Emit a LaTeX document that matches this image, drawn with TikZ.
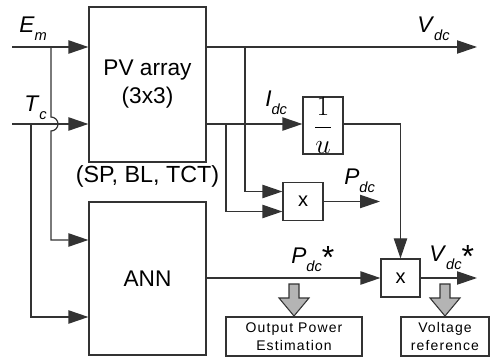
\documentclass[tikz,border=0pt]{standalone}
\usepackage{fontspec}
\setmainfont{Liberation Sans}
\usetikzlibrary{arrows.meta}
\definecolor{ink}{HTML}{333333}
\definecolor{hollow}{HTML}{B4B4B4}
\newcommand{\siglbl}[2]{\textit{#1}\raisebox{-6pt}{\fontsize{11}{11}\selectfont\textit{#2}}}
\newcommand{\starmark}{\raisebox{-4pt}{\fontsize{24}{24}\selectfont *}}
\tikzset{
  every node/.style={font=\fontsize{17}{21}\selectfont},
  block/.style={
    rectangle, draw=ink, line width=0.9pt, fill=white,
    align=center, inner sep=0pt
  },
  mult/.style={
    block, minimum width=30pt, minimum height=28pt,
    font=\fontsize{15}{15}\selectfont
  },
  note/.style={
    block, minimum height=29.25pt,
    font=\fontsize{10.5}{13.5}\selectfont\addfontfeatures{LetterSpace=8}
  },
  wire/.style={draw=ink, line width=0.9pt},
  arrow/.style={
    -{Triangle[length=15pt,width=10pt]},
    wire
  },
  lbl/.style={anchor=base west, inner sep=0pt},
  fat/.style={draw=ink, line width=0.8pt, fill=hollow},
}

\begin{document}
\begin{tikzpicture}[x=0.75pt, y=-0.75pt]
  \useasboundingbox (0,0) rectangle (490,360);
  % blocks
  \node[block, minimum width=87.75pt, minimum height=116.25pt] (pv) at (147.5,84.5) {PV array\\(3x3)};
  \node[anchor=base, font=\fontsize{17.5}{21}\selectfont] (cfg) at (147.5,183) {(SP, BL, TCT)};
  \node[block, minimum width=87.75pt, minimum height=114.75pt] (ann) at (147.5,278.5) {ANN};
  \node[block, minimum width=30pt, minimum height=42.75pt, font=\fontsize{20}{20}\selectfont] (inv) at (323,125.5) {$\displaystyle\frac{1}{u}$};
  \node[mult] (mulA) at (303,201.5) {x};
  \node[mult, minimum width=29.25pt, minimum height=28.5pt] (mulB) at (400.5,278) {x};
  \node[note, minimum width=102pt] (ope) at (294,336.5) {Output Power\\Estimation};
  \node[note, minimum width=66pt] (vref) at (445,336.5) {Voltage\\reference};
  % inputs
  \coordinate (em) at (12,47);
  \coordinate (tc) at (12,124);
  \coordinate (emtap) at (51,47);
  \coordinate (tctap) at (31,124);
  \draw[wire] (em) -- (emtap);
  \draw[arrow] (emtap) -- (em -| pv.west);
  \draw[arrow] (tc) -- (tc -| pv.west);
  \draw[arrow] (emtap) -- (51,117) arc[start angle=90, end angle=-90, radius=5.25pt] |- ([yshift=28.875pt]ann.west);
  \draw[arrow] (tctap) |- ([yshift=-28.875pt]ann.west);
  % outputs
  \coordinate (vout) at (477,47);
  \coordinate (vtap) at (245,47);
  \coordinate (itap) at (226,124);
  \coordinate (pout) at (380,201.5);
  \coordinate (vsout) at (477,278);
  \draw[arrow] (em -| pv.east) -- (vout);
  \draw[arrow] (vtap) |- ([yshift=7.5pt]mulA.west);
  \draw[arrow] (tc -| pv.east) -- (tc -| inv.west);
  \draw[arrow] (itap) |- ([yshift=-7.5pt]mulA.west);
  \draw[arrow] (tc -| inv.east) -| (mulB.north);
  \draw[arrow] (mulA.east) -- (pout);
  \draw[arrow] (ann.east |- mulB.west) -- (mulB.west);
  \draw[arrow] (mulB.east) -- (vsout);
  % hollow arrows
  \draw[fat] (289,284) -- ++(10,0) -- ++(0,14) -- ++(10,0) -- ++(-15,18) -- ++(-15,-18) -- ++(10,0) -- cycle;
  \draw[fat] (440,284) -- ++(10,0) -- ++(0,14) -- ++(10,0) -- ++(-15,18) -- ++(-15,-18) -- ++(10,0) -- cycle;
  % labels
  \node[lbl] (emlbl) at (19,33) {\siglbl{E}{m}};
  \node[lbl] (tclbl) at (24,112) {\siglbl{T}{c}};
  \node[lbl] (vlbl) at (417,33) {\siglbl{V}{dc}};
  \node[lbl] (ilbl) at (265,107) {\siglbl{I}{dc}};
  \node[lbl] (plbl) at (344,185) {\siglbl{P}{dc}};
  \node[lbl] (prlbl) at (291,263) {\siglbl{P}{dc}\starmark};
  \node[lbl] (vrlbl) at (429,262) {\siglbl{V}{dc}\starmark};
\end{tikzpicture}
\end{document}
